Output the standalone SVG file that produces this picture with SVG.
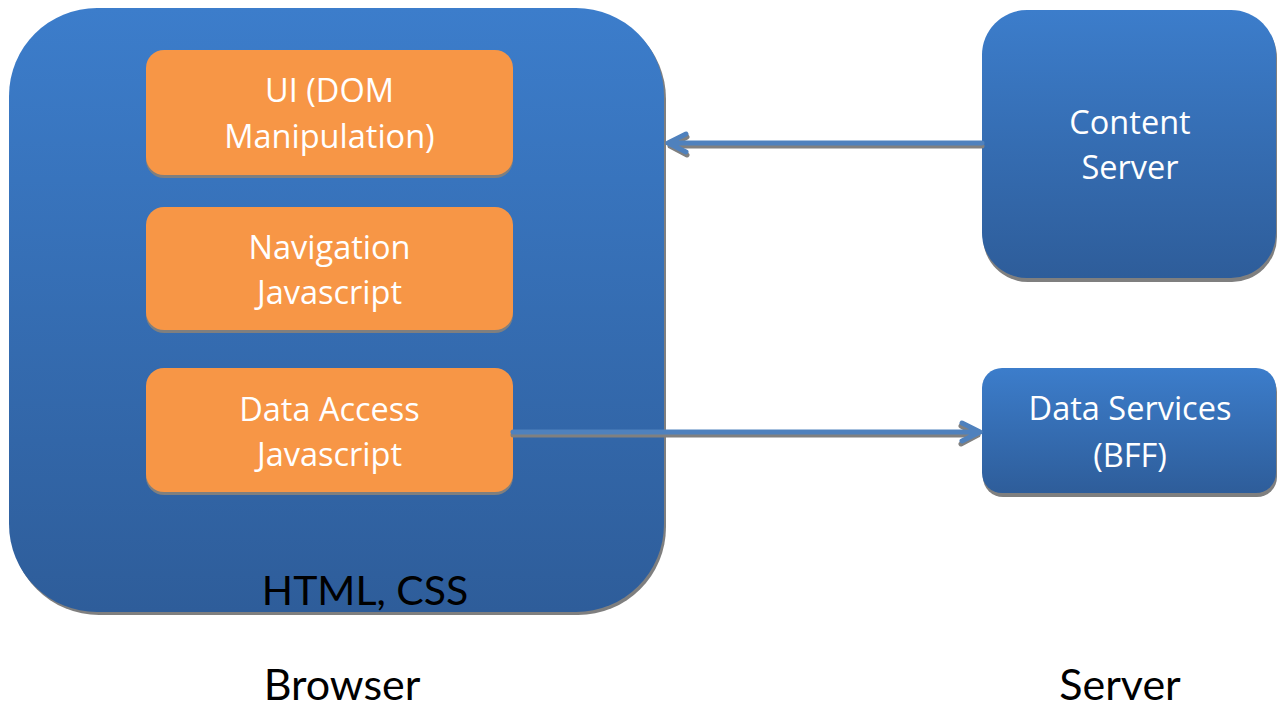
<svg xmlns="http://www.w3.org/2000/svg" width="1277" height="707" viewBox="0 0 1277 707">
  <style>
    .lbl { font-family: "Open Sans", Lato, "Liberation Sans", sans-serif; fill: #ffffff; font-size: 32.5px; text-anchor: middle; }
    .cap { font-family: Lato, "Open Sans", "Liberation Sans", sans-serif; fill: #000000; font-size: 41px; text-anchor: middle; }
    .foot { font-family: Lato, "Open Sans", "Liberation Sans", sans-serif; fill: #000000; font-size: 43px; text-anchor: middle; }
    .blue { fill: url(#blueGrad); }
    .orange { fill: #f79646; }
    .shadow { fill: #7f7f7f; }
    .wire { fill: none; stroke: #4f81bd; stroke-width: 5; stroke-linecap: round; stroke-linejoin: round; }
    .wireShadow { fill: none; stroke: #808080; stroke-width: 5; stroke-linecap: round; stroke-linejoin: round; }
  </style>
  <defs>
    <linearGradient id="blueGrad" x1="0" y1="0" x2="0" y2="1">
      <stop offset="0" stop-color="#3c7dcb"/>
      <stop offset="1" stop-color="#2e5d9a"/>
    </linearGradient>
  </defs>
  <rect width="1277" height="707" fill="#ffffff"/>

  <!-- Browser container -->
  <g id="browser">
    <rect class="shadow" x="11" y="11" width="655" height="604" rx="88" ry="88"/>
    <rect class="blue" x="9" y="8" width="655" height="604" rx="88" ry="88"/>
    <text class="cap" x="365" y="605">HTML, CSS</text>
  </g>

  <g id="ui-dom">
    <rect class="shadow" x="146" y="53" width="367" height="125" rx="18" ry="18"/>
    <rect class="orange" x="146" y="50" width="367" height="125" rx="18" ry="18"/>
    <text class="lbl" x="329.5" y="102">UI (DOM</text>
    <text class="lbl" x="329.5" y="148">Manipulation)</text>
  </g>

  <g id="navigation">
    <rect class="shadow" x="146" y="210" width="367" height="123" rx="18" ry="18"/>
    <rect class="orange" x="146" y="207" width="367" height="123" rx="18" ry="18"/>
    <text class="lbl" x="329.5" y="259">Navigation</text>
    <text class="lbl" x="329.5" y="304">Javascript</text>
  </g>

  <g id="data-access">
    <rect class="shadow" x="146" y="371" width="367" height="124" rx="18" ry="18"/>
    <rect class="orange" x="146" y="368" width="367" height="124" rx="18" ry="18"/>
    <text class="lbl" x="329.5" y="421">Data Access</text>
    <text class="lbl" x="329.5" y="466">Javascript</text>
  </g>

  <g id="content-server">
    <rect class="shadow" x="983" y="13" width="294" height="269" rx="45" ry="45"/>
    <rect class="blue" x="982" y="10" width="294" height="268" rx="45" ry="45"/>
    <text class="lbl" x="1130" y="134">Content</text>
    <text class="lbl" x="1130" y="179">Server</text>
  </g>

  <g id="data-services">
    <rect class="shadow" x="983" y="372" width="294" height="125" rx="20" ry="20"/>
    <rect class="blue" x="982" y="368" width="294" height="125" rx="20" ry="20"/>
    <text class="lbl" x="1130" y="420">Data Services</text>
    <text class="lbl" x="1130" y="467">(BFF)</text>
  </g>

  <g id="labels">
    <text class="foot" x="342" y="700">Browser</text>
    <text class="foot" x="1120" y="700">Server</text>
  </g>

  <!-- Connectors -->
  <g id="connectors">
    <path class="wireShadow" d="M982 146 L670 146 M687 137 L670 146 L687 155"/>
    <path class="wire" d="M982 143 L668 143 M686 134 L668 143 L686 152"/>
    <path class="wireShadow" d="M513 435 L978 435 M961 426 L978 435 L961 444"/>
    <path class="wire" d="M513 432 L980 432 M962 423 L980 432 L962 441"/>
  </g>
</svg>
